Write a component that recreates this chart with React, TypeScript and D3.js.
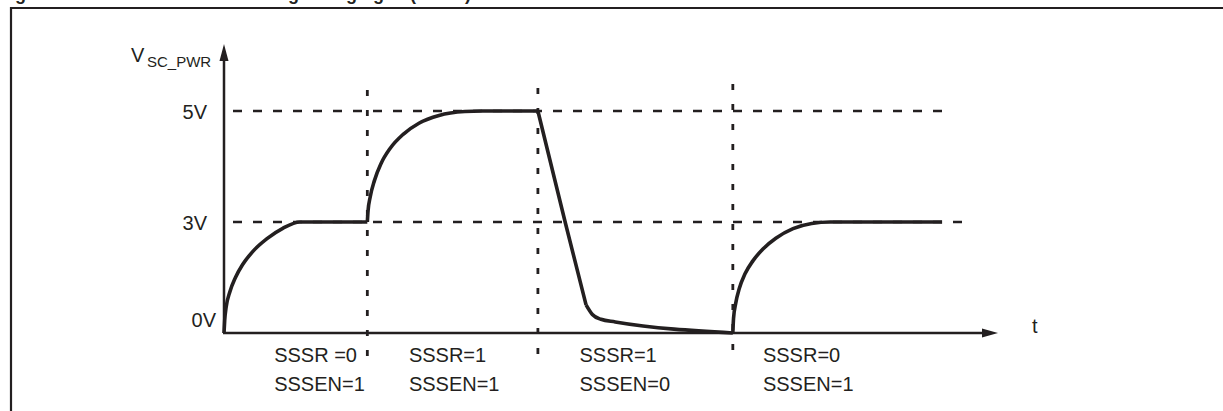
import React from "react";
import * as d3 from "d3";

// ---- data (time in arbitrary units, voltage in V) ----
const levels = [0, 3, 5];
const levelLabels = ["0V", "3V", "5V"];
const phaseBounds = [10, 21.9, 35.5]; // vertical dotted markers
const labelT = [3.5, 12.9, 24.8, 37.6];
const sssrLabels = ["SSSR =0", "SSSR=1", "SSSR=1", "SSSR=0"];
const sssenLabels = ["SSSEN=1", "SSSEN=1", "SSSEN=0", "SSSEN=1"];

const rise1: [number, number][] = [
  [0, 0], [0.05, 0.35], [0.15, 0.7], [0.4, 1.1], [0.8, 1.5], [1.3, 1.85],
  [2.0, 2.2], [3.0, 2.55], [4.1, 2.83], [5.3, 3.0], [10, 3.0],
];
const rise2: [number, number][] = [
  [10, 3.0], [10.05, 3.2], [10.2, 3.45], [10.5, 3.75], [10.95, 4.05],
  [11.6, 4.33], [12.5, 4.58], [13.6, 4.78], [15.0, 4.92], [16.8, 4.99],
  [18.0, 5.0], [21.9, 5.0],
];
const fall: [number, number][] = [[21.9, 5.0], [23.8, 3.0], [25.26, 0.76]];
const fallTail: [number, number][] = [
  [25.26, 0.76], [25.7, 0.5], [26.3, 0.37], [27.3, 0.3], [35.5, 0.0],
];
const rise3: [number, number][] = [
  [35.5, 0], [35.55, 0.4], [35.7, 0.8], [35.95, 1.2], [36.35, 1.6],
  [36.9, 1.95], [37.6, 2.27], [38.5, 2.56], [39.7, 2.82], [41.0, 2.96],
  [42.3, 3.0], [50.1, 3.0],
];

const INK = "#231f20";
const FONT = "Arial, 'Liberation Sans', sans-serif";

export default function App() {
  const x = d3.scaleLinear().domain([0, 54]).range([224, 998]);
  const y = d3.scaleLinear().domain([0, 3, 5]).range([333, 222, 111]);

  const smooth = d3
    .line<[number, number]>()
    .x((d) => x(d[0]))
    .y((d) => y(d[1]))
    .curve(d3.curveMonotoneX);
  const straight = d3
    .line<[number, number]>()
    .x((d) => x(d[0]))
    .y((d) => y(d[1]));

  const x0 = x(0);
  const xEnd = x(54);
  const y0 = y(0);
  const yTop = 44;

  const hEnds: Record<number, number> = { 3: 973, 5: 950 };
  const vTops = [90, 88, 84];
  const vBottoms = [360, 360, 355];

  return (
    <svg
      width={1223}
      height={411}
      style={{ position: "absolute", left: 0, top: 0, background: "#fff" }}
      fontFamily={FONT}
    >
      <rect x={0} y={0} width={1223} height={411} fill="#fff" />
      {/* cut-off title (only its descenders are visible, as in the reference) */}
      <text x={-1} y={0} fontSize={18} fontWeight="bold" fill={INK}>
        Figure 54. Smartcard VCC
      </text>
      <text x={243} y={0} fontSize={18} fontWeight="bold" fill={INK}>
        during changing in (SSSR)
      </text>
      {/* frame */}
      <line x1={11} y1={8} x2={1223} y2={8} stroke={INK} strokeWidth={2.2} />
      <line x1={11} y1={7} x2={11} y2={411} stroke={INK} strokeWidth={2.2} />

      {/* horizontal dashed level lines */}
      {levels
        .filter((l) => l > 0)
        .map((l) => (
          <line
            key={"h" + l}
            x1={x0 + 9}
            x2={hEnds[l]}
            y1={y(l)}
            y2={y(l)}
            stroke={INK}
            strokeWidth={2.5}
            strokeDasharray="9 11"
          />
        ))}
      {/* vertical dotted phase lines */}
      {phaseBounds.map((t, i) => (
        <line
          key={"v" + i}
          x1={x(t)}
          x2={x(t)}
          y1={vTops[i]}
          y2={vBottoms[i]}
          stroke={INK}
          strokeWidth={2.8}
          strokeDasharray="6 14"
        />
      ))}

      {/* axes */}
      <line x1={x0} y1={y0} x2={x0} y2={yTop + 10} stroke={INK} strokeWidth={2.5} />
      <path
        d={`M${x0},${yTop} L${x0 - 4.5},${yTop + 17} L${x0 + 4.5},${yTop + 17} Z`}
        fill={INK}
      />
      <line x1={x0 - 1} y1={y0} x2={xEnd - 10} y2={y0} stroke={INK} strokeWidth={2.5} />
      <path
        d={`M${xEnd},${y0} L${xEnd - 16},${y0 - 4.5} L${xEnd - 16},${y0 + 4.5} Z`}
        fill={INK}
      />

      {/* waveform */}
      <g fill="none" stroke={INK} strokeWidth={3.6} strokeLinejoin="round">
        <path d={smooth(rise1) || ""} />
        <path d={smooth(rise2) || ""} />
        <path d={straight(fall) || ""} />
        <path d={smooth(fallTail) || ""} />
        <path d={smooth(rise3) || ""} />
      </g>

      {/* level labels */}
      {levels.map((l, i) => (
        <text
          key={"l" + l}
          x={l === 0 ? 216 : 207}
          y={l === 0 ? 327 : y(l) + 8}
          textAnchor="end"
          fontSize={20}
          fill={INK}
        >
          {levelLabels[i]}
        </text>
      ))}

      {/* axis titles */}
      <text x={131} y={62} fontSize={20} fill={INK}>
        V
      </text>
      <text x={147} y={67} fontSize={15} fill={INK}>
        SC_PWR
      </text>
      <text x={1032} y={333} fontSize={20} fill={INK}>
        t
      </text>

      {/* phase labels */}
      {labelT.map((t, i) => (
        <g key={"p" + i}>
          <text x={x(t)} y={361.5} fontSize={20} fill={INK}>
            {sssrLabels[i]}
          </text>
          <text x={x(t)} y={390.5} fontSize={20} fill={INK}>
            {sssenLabels[i]}
          </text>
        </g>
      ))}
    </svg>
  );
}
